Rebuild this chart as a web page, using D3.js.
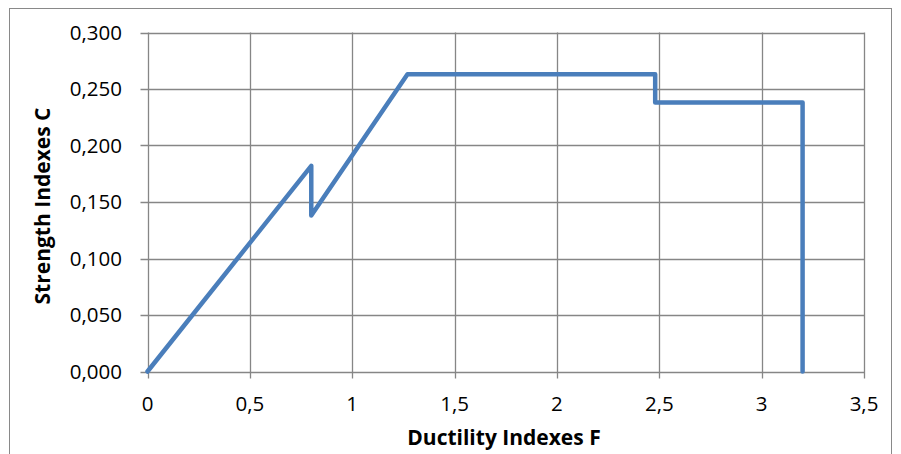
<!DOCTYPE html>
<html><head><meta charset="utf-8">
<script src="https://cdn.jsdelivr.net/npm/d3@7"></script>
<style>body{margin:0;background:#fff;} svg{display:block;}</style>
</head><body>
<script>
const ductility = [0, 0.8, 0.8, 1.27, 2.48, 2.48, 3.2, 3.2];
const strength = [0, 0.182, 0.138, 0.263, 0.263, 0.238, 0.238, 0];
const xTicks = [0, 0.5, 1, 1.5, 2, 2.5, 3, 3.5];
const yTicks = [0, 0.05, 0.1, 0.15, 0.2, 0.25, 0.3];
const xTitle = "Ductility Indexes F";
const yTitle = "Strength Indexes C";

const W = 901, H = 454;
const svg = d3.select("body").append("svg").attr("width", W).attr("height", H);
svg.append("rect").attr("x", 9.5).attr("y", 8.5).attr("width", 882).attr("height", 460)
  .attr("fill", "none").attr("stroke", "#898989").attr("stroke-width", 1);

const x = d3.scaleLinear().domain([0, 3.5]).range([147.5, 864]);
const y = d3.scaleLinear().domain([0, 0.3]).range([371.5, 32.5]);
const fmtY = v => d3.format(".3f")(v).replace(".", ",");
const fmtX = v => String(v).replace(".", ",");
const font = "'Open Sans', sans-serif";

const g = svg.append("g");
g.selectAll(".hg").data(yTicks).enter().append("line")
  .attr("x1", x(0) - 7).attr("x2", x(3.5)).attr("y1", d => Math.round(y(d)) + 0.5).attr("y2", d => Math.round(y(d)) + 0.5)
  .attr("stroke", "#868686").attr("stroke-width", 1.3);
g.selectAll(".vg").data(xTicks).enter().append("line")
  .attr("y1", y(0.3)).attr("y2", y(0) + 7).attr("x1", d => Math.round(x(d)) + 0.5).attr("x2", d => Math.round(x(d)) + 0.5)
  .attr("stroke", "#868686").attr("stroke-width", 1.3);

g.selectAll(".yl").data(yTicks).enter().append("text")
  .attr("x", 122).attr("y", d => y(d)).attr("dy", "0.36em").attr("text-anchor", "end")
  .style("font-family", font).style("font-size", "20.5px").attr("fill", "#000").text(fmtY);
g.selectAll(".xl").data(xTicks).enter().append("text")
  .attr("x", d => x(d)).attr("y", 411).attr("text-anchor", "middle")
  .style("font-family", font).style("font-size", "20.5px").attr("fill", "#000").text(fmtX);

svg.append("text").attr("x", 504).attr("y", 445).attr("text-anchor", "middle")
  .style("font-family", font).style("font-size", "21px").style("font-weight", "bold").text(xTitle);
svg.append("text").attr("transform", "translate(50,206) rotate(-90)").attr("text-anchor", "middle")
  .style("font-family", font).style("font-size", "21px").style("font-weight", "bold").text(yTitle);

const pts = ductility.map((d, i) => [d, strength[i]]);
svg.append("path").datum(pts)
  .attr("d", d3.line().x(d => x(d[0])).y(d => y(d[1])))
  .attr("fill", "none").attr("stroke", "#4a7ebb").attr("stroke-width", 4.5)
  .attr("stroke-linejoin", "round").attr("stroke-linecap", "round");
</script>
</body></html>
